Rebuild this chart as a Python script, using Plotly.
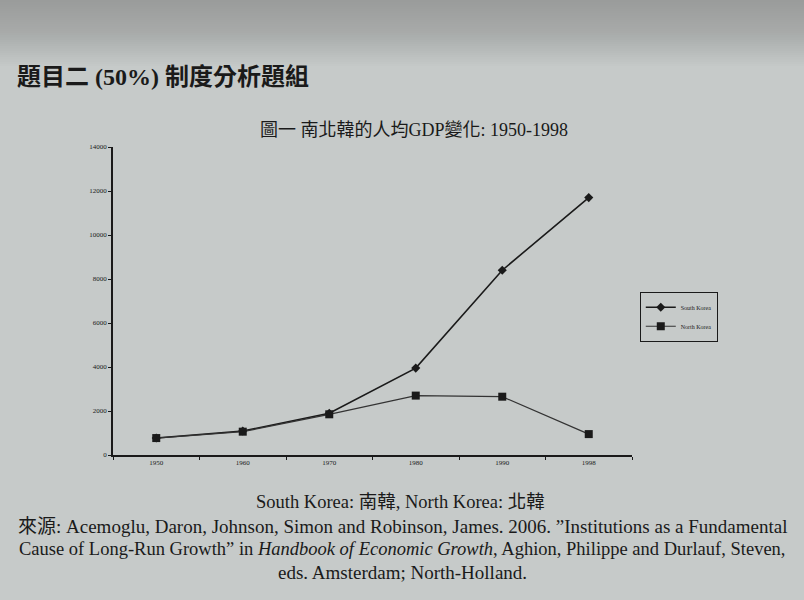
import plotly.graph_objects as go

# 年份 (類別軸) 與人均 GDP
years = ["1950", "1960", "1970", "1980", "1990", "1998"]
south_korea = [770, 1090, 1900, 3950, 8400, 11700]
north_korea = [770, 1060, 1850, 2700, 2650, 950]
y_ticks = [0, 2000, 4000, 6000, 8000, 10000, 12000, 14000]
y_labels = ["0", "2000", "4000", "6000", "8000", "10000", "12000", "14000"]

PAPER = "#c6cac9"
INK = "#1a1a1a"
SERIF = "Liberation Serif, DejaVu Serif, serif"
CJK = "Liberation Serif, Noto Sans CJK TC, serif"

fig = go.Figure()

fig.add_trace(go.Scatter(
    x=years, y=south_korea,
    mode="lines+markers",
    name="South Korea",
    line=dict(color=INK, width=1.6),
    marker=dict(symbol="diamond", size=7, color=INK)
))

fig.add_trace(go.Scatter(
    x=years, y=north_korea,
    mode="lines+markers",
    name="North Korea",
    line=dict(color="#333333", width=1.2),
    marker=dict(symbol="square", size=8, color=INK)
))

fig.update_xaxes(
    type="category",
    range=[-0.5, 5.5],
    showline=True, linecolor=INK, linewidth=1.5,
    ticks="outside", tickson="boundaries", ticklen=3, tickcolor=INK,
    tickfont=dict(family=SERIF, size=7, color=INK),
    showgrid=False, zeroline=False
)
fig.update_yaxes(
    range=[0, 14000],
    tickvals=y_ticks, ticktext=y_labels,
    showline=True, linecolor=INK, linewidth=1.5,
    ticks="outside", ticklen=3, tickcolor=INK,
    tickfont=dict(family=SERIF, size=7, color=INK),
    showgrid=False, zeroline=False
)

annotations = [
    dict(text="<b>題目二 (50%) 制度分析題組</b>", x=15, y=77, font=dict(size=24, family=CJK)),
    dict(text="圖一 南北韓的人均GDP變化: 1950-1998", x=414, y=130, xanchor="center",
         font=dict(size=18, family=CJK)),
    dict(text="South Korea: 南韓, North Korea: 北韓", x=400, y=502, xanchor="center",
         font=dict(size=18.5, family=CJK)),
    dict(text="來源: Acemoglu, Daron, Johnson, Simon and Robinson, James. 2006. \u201dInstitutions as a Fundamental",
         x=402, y=526, xanchor="center", font=dict(size=19, family=CJK)),
    dict(text="Cause of Long-Run Growth\u201d in <i>Handbook of Economic Growth</i>, Aghion, Philippe and Durlauf, Steven,",
         x=402, y=549, xanchor="center", font=dict(size=18.5, family=CJK)),
    dict(text="eds. Amsterdam; North-Holland.", x=402, y=572, xanchor="center",
         font=dict(size=19, family=CJK)),
]
for a in annotations:
    fig.add_annotation(
        text=a["text"], xref="paper", yref="paper",
        x=(a["x"] - 113) / 519, y=(455 - a["y"]) / 308,
        xanchor=a.get("xanchor", "left"), yanchor="middle",
        showarrow=False, font=dict(color=INK, **a["font"])
    )

# 照片上方較暗的陰影 (細條疊加成漸層)
for i in range(30):
    y1 = 2 + i * 2.2
    fig.add_shape(
        type="rect", xref="paper", yref="paper", layer="below",
        x0=-113 / 519, x1=691 / 519,
        y0=(455 - y1) / 308, y1=(455 + 5) / 308,
        fillcolor="#6f7275", opacity=0.025, line_width=0
    )

fig.update_layout(
    width=804, height=600,
    paper_bgcolor=PAPER, plot_bgcolor="rgba(0,0,0,0)",
    margin=dict(l=113, r=172, t=147, b=145),
    showlegend=True,
    legend=dict(
        x=1.015, y=0.53, xanchor="left", yanchor="top",
        bgcolor=PAPER, bordercolor=INK, borderwidth=1,
        font=dict(family=SERIF, size=6, color=INK),
        itemwidth=30, tracegroupgap=0
    ),
    font=dict(family=SERIF, color=INK)
)

fig.write_html("out.html", config={"displayModeBar": False},
               post_script="document.body.style.margin='0';")
